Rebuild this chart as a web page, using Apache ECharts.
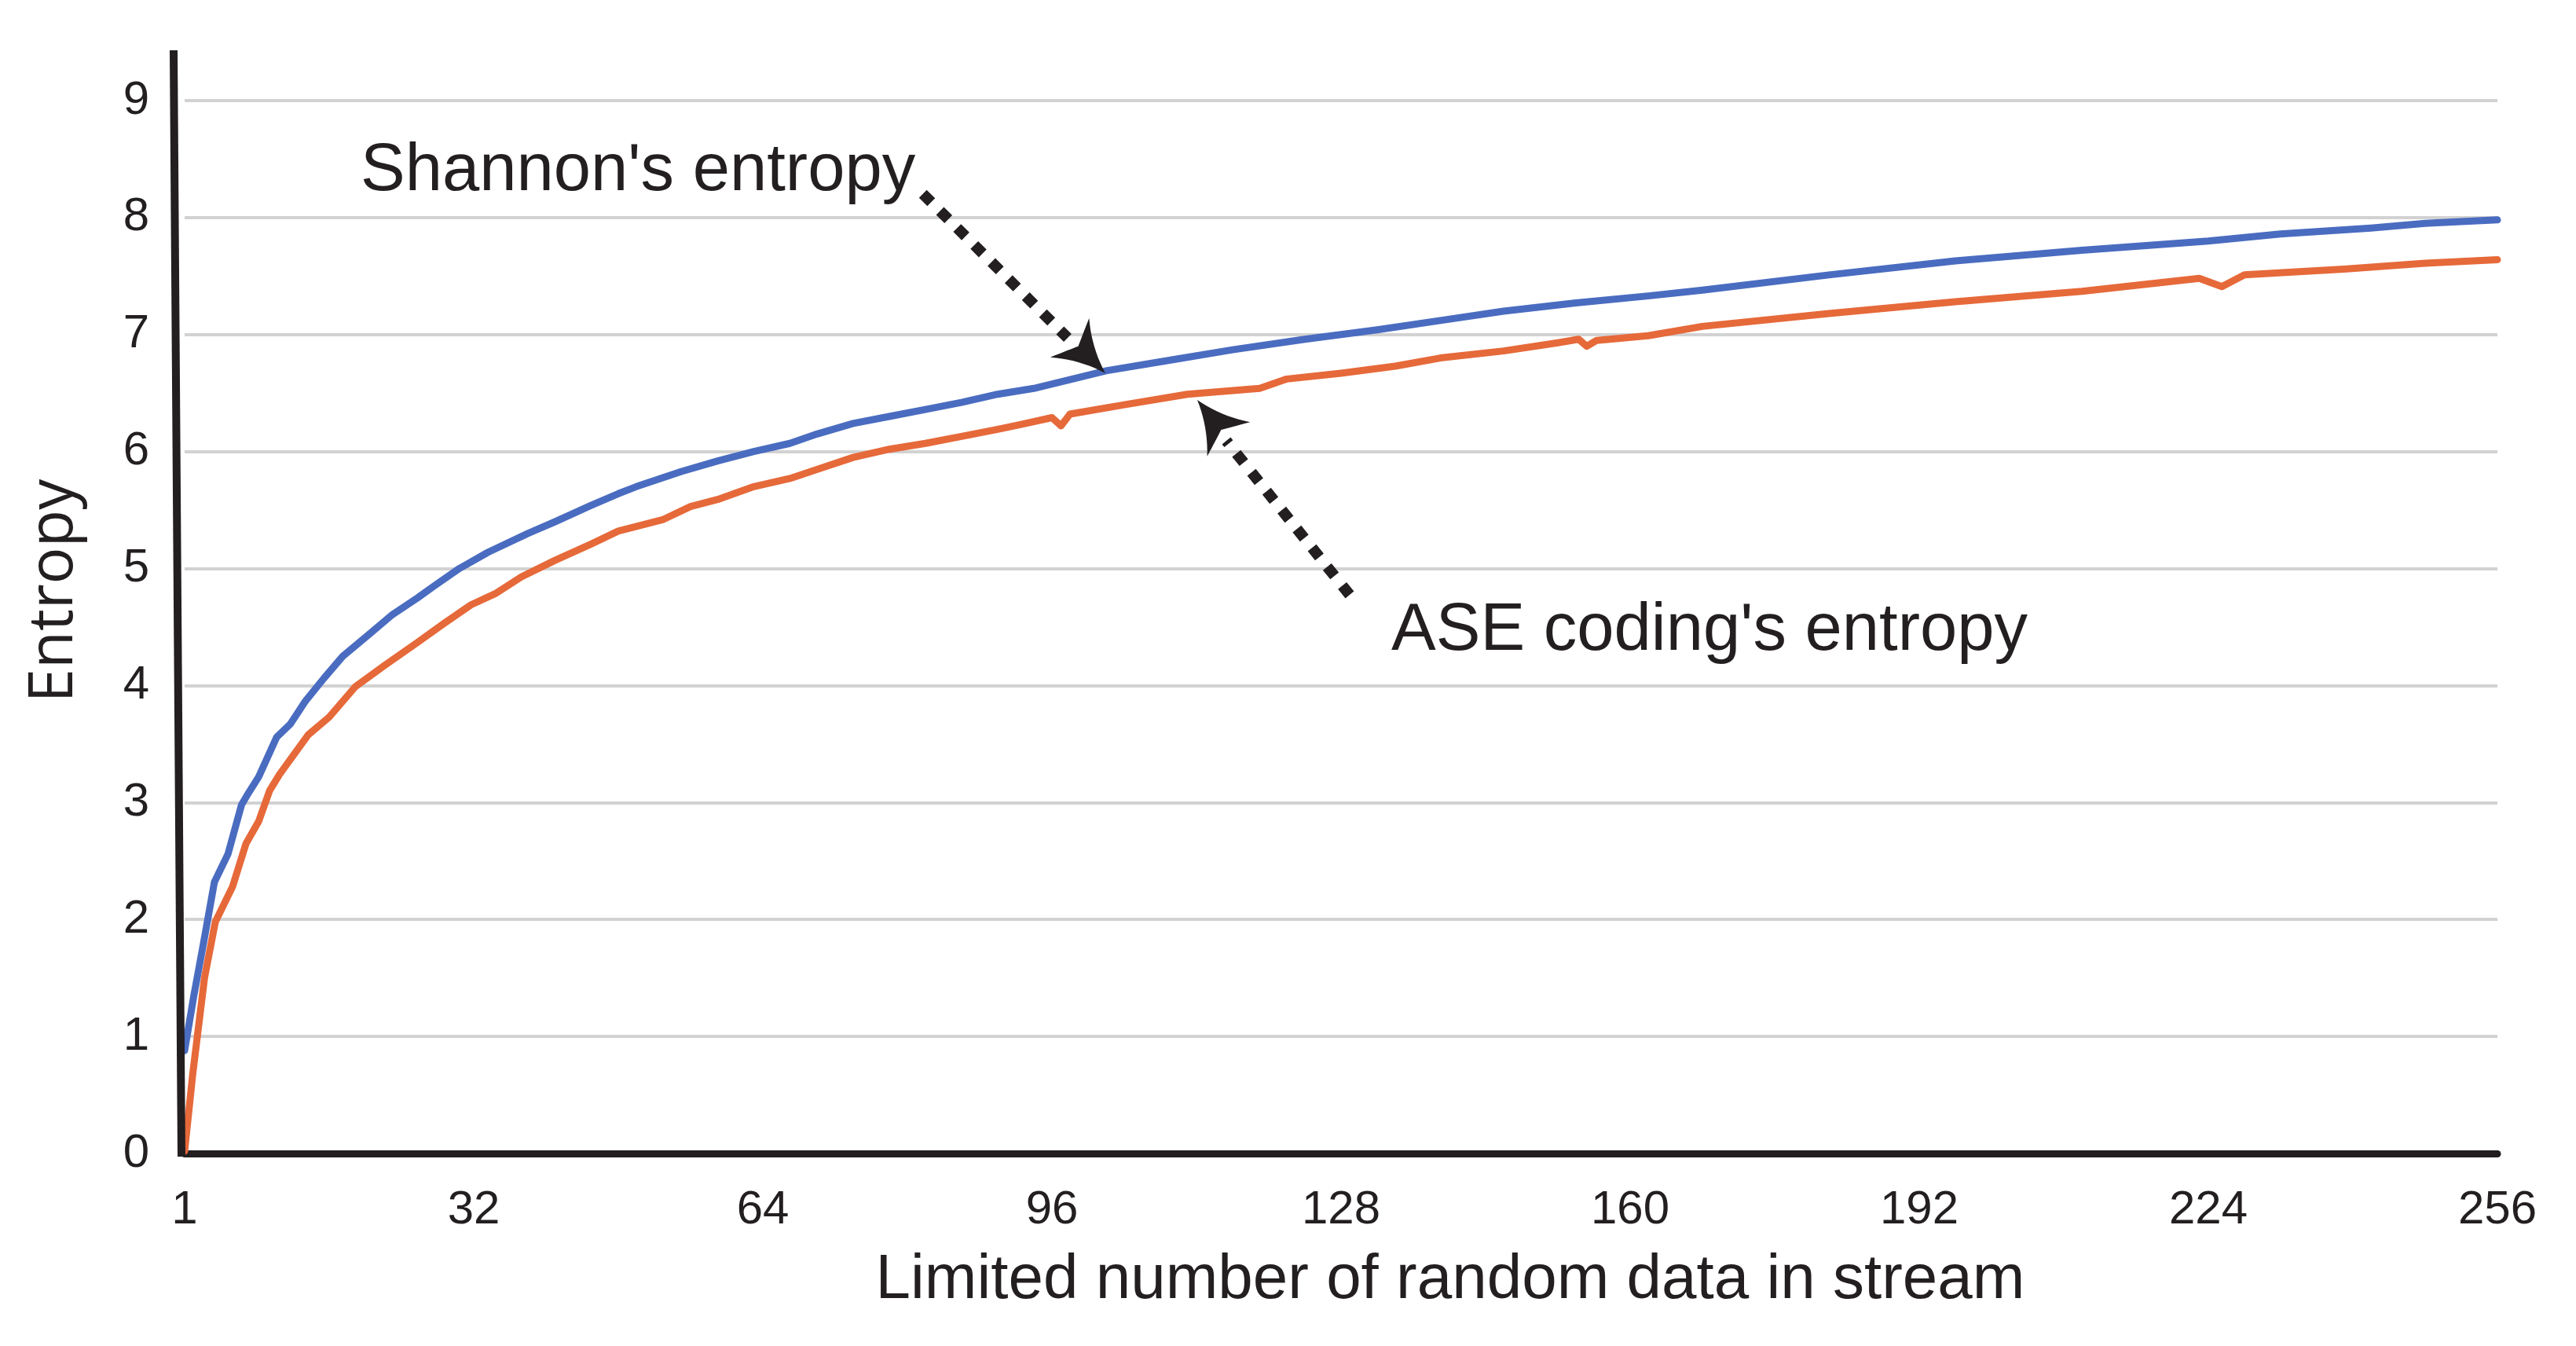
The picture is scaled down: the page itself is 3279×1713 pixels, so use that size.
<!DOCTYPE html>
<html>
<head>
<meta charset="utf-8">
<script src="https://cdn.jsdelivr.net/npm/echarts@6/dist/echarts.min.js"></script>
<style>
html,body{margin:0;padding:0;background:#ffffff;}
#chart{width:3279px;height:1713px;}
</style>
</head>
<body>
<div id="chart"></div>
<script>
// ---------------- data ----------------
const xTickValues = [0, 32, 64, 96, 128, 160, 192, 224, 256];
const xTickLabels = ['1', '32', '64', '96', '128', '160', '192', '224', '256'];

const seriesNames = ["Shannon's entropy", "ASE coding's entropy"];

const shannonX = [0, 1, 2, 3.3, 4.8, 6.3, 6.9, 8.2, 10.2, 11.7, 13.4, 15.4, 17.5, 20.6, 22.9, 25.8, 27.6, 30.4, 33.6, 38,
  41, 45, 48, 50, 55, 59, 63, 67, 70, 74, 78, 82, 86, 90, 94, 102, 109, 116, 124, 132,
  139, 146, 154, 162, 168, 182, 196, 210, 224, 232, 242, 248, 256];
const shannonY = [0.88, 1.34, 1.76, 2.32, 2.56, 2.98, 3.06, 3.22, 3.56, 3.67, 3.87, 4.06, 4.25, 4.45, 4.60, 4.75, 4.85, 5.0, 5.14, 5.3,
  5.4, 5.54, 5.64, 5.7, 5.83, 5.92, 6.0, 6.07, 6.15, 6.24, 6.3, 6.36, 6.42, 6.49, 6.54, 6.69, 6.78, 6.87, 6.96, 7.04,
  7.12, 7.2, 7.27, 7.33, 7.38, 7.51, 7.63, 7.72, 7.8, 7.86, 7.91, 7.95, 7.98];

const aseX = [0, 0.9, 2.2, 3.4, 5.3, 6.8, 8.2, 9.4, 10.5, 13.7, 16, 18.9, 22.1, 25.8, 28.7, 31.7, 34.5, 37.3, 41, 45,
  48, 53, 56, 59, 63, 67, 70.5, 74, 78, 82, 86, 90, 92.5, 96, 97, 98, 104, 111, 119, 122,
  128, 134, 139, 146, 152, 154.3, 155.2, 156.3, 162, 168, 182, 196, 210, 223, 225.5, 228, 239, 248, 256];
const aseY = [0.02, 0.68, 1.5, 1.98, 2.28, 2.65, 2.84, 3.10, 3.24, 3.58, 3.73, 3.99, 4.17, 4.37, 4.53, 4.69, 4.79, 4.93, 5.07, 5.21,
  5.32, 5.42, 5.53, 5.59, 5.7, 5.77, 5.86, 5.95, 6.02, 6.07, 6.13, 6.19, 6.23, 6.29, 6.22, 6.32, 6.40, 6.49, 6.54, 6.62,
  6.67, 6.73, 6.80, 6.86, 6.93, 6.96, 6.90, 6.95, 6.99, 7.07, 7.18, 7.28, 7.37, 7.48, 7.41, 7.51, 7.56, 7.61, 7.64];

// ---------------- styles ----------------
const INK = '#231f20';
const GRID = '#d2d2d2';
const BLUE = '#4a6cc0';
const ORANGE = '#e6693a';
const SANS = '"Liberation Sans", Arial, Helvetica, sans-serif';
const HUMANIST = '"Open Sans", "Noto Sans", sans-serif';

const chart = echarts.init(document.getElementById('chart'), null, {renderer: 'canvas'});

const option = {
  animation: false,
  backgroundColor: '#ffffff',
  grid: {left: 235, right: 100, top: 128, bottom: 245, containLabel: false},
  xAxis: {
    type: 'value', min: 0, max: 256, interval: 32,
    axisLine: {show: true, onZero: false, lineStyle: {color: INK, width: 9}},
    axisTick: {show: false},
    splitLine: {show: false},
    axisLabel: {
      fontSize: 60, color: INK, fontFamily: SANS, margin: 42,
      formatter: function (v) { const i = xTickValues.indexOf(v); return i >= 0 ? xTickLabels[i] : ''; }
    }
  },
  yAxis: {
    type: 'value', min: 0, max: 9, interval: 1,
    axisLine: {show: false},
    axisTick: {show: false},
    splitLine: {show: true, lineStyle: {color: GRID, width: 4}},
    axisLabel: {fontSize: 60, color: INK, fontFamily: SANS, margin: 45}
  },
  series: [
    {
      name: seriesNames[0], type: 'line', showSymbol: false, z: 3,
      data: shannonX.map((x, i) => [x, shannonY[i]]),
      lineStyle: {color: BLUE, width: 9, cap: 'round', join: 'round'}
    },
    {
      name: seriesNames[1], type: 'line', showSymbol: false, z: 4,
      data: aseX.map((x, i) => [x, aseY[i]]),
      lineStyle: {color: ORANGE, width: 9, cap: 'round', join: 'round'}
    }
  ]
};
chart.setOption(option);

// ---------------- decorations: hand-drawn y axis line, titles, arrows ----------------
function quad(p0, c, p1, n) {
  const pts = [];
  for (let k = 1; k <= n; k++) {
    const t = k / n, a = (1 - t) * (1 - t), b = 2 * (1 - t) * t, d = t * t;
    pts.push([a * p0[0] + b * c[0] + d * p1[0], a * p0[1] + b * c[1] + d * p1[1]]);
  }
  return pts;
}
function arrowHead(T, dir, L, W) {
  const len = Math.hypot(dir[0], dir[1]);
  const u = [dir[0] / len, dir[1] / len];
  const v = [-u[1], u[0]];
  const P = (a, b) => [T[0] - a * u[0] + b * v[0], T[1] - a * u[1] + b * v[1]];
  const B1 = P(L, W), B2 = P(L, -W), N = P(0.76 * L, 0);
  let pts = [T];
  pts = pts.concat(quad(T, P(0.55 * L, 0.30 * W), B1, 10));
  pts = pts.concat(quad(B1, P(0.84 * L, 0.32 * W), N, 8));
  pts = pts.concat(quad(N, P(0.84 * L, -0.32 * W), B2, 8));
  pts = pts.concat(quad(B2, P(0.55 * L, -0.30 * W), T, 10));
  return {type: 'polygon', shape: {points: pts}, style: {fill: INK}, z: 60};
}
function dotted(x1, y1, x2, y2) {
  return {
    type: 'line', shape: {x1: x1, y1: y1, x2: x2, y2: y2},
    style: {stroke: INK, lineWidth: 14, lineDash: [15, 15.8], lineCap: 'butt'}, z: 60
  };
}

const origin = chart.convertToPixel({gridIndex: 0}, [0, 0]);
const axisTop = chart.convertToPixel({gridIndex: 0}, [0, 9.43]);

chart.setOption({
  graphic: [
    // slightly slanted, extended vertical axis line
    {type: 'line', shape: {x1: origin[0] - 4, y1: origin[1] + 4, x2: axisTop[0] - 14, y2: axisTop[1]},
      style: {stroke: INK, lineWidth: 10, lineCap: 'butt'}, z: 50},
    // axis titles
    {type: 'text', x: 70, y: 752, rotation: Math.PI / 2,
      style: {text: 'Entropy', fontSize: 78, fontFamily: HUMANIST, fill: INK, align: 'center', verticalAlign: 'middle'}, z: 60},
    {type: 'text', x: 1846, y: 1630,
      style: {text: 'Limited number of random data in stream', fontSize: 80, fontFamily: SANS, fill: INK, align: 'center', verticalAlign: 'middle'}, z: 60},
    // annotations
    {type: 'text', x: 459, y: 219,
      style: {text: seriesNames[0], fontSize: 85, fontFamily: SANS, fill: INK, align: 'left', verticalAlign: 'middle'}, z: 60},
    {type: 'text', x: 1771, y: 804,
      style: {text: seriesNames[1], fontSize: 85, fontFamily: SANS, fill: INK, align: 'left', verticalAlign: 'middle'}, z: 60},
    dotted(1174.7, 246.7, 1359, 430),
    arrowHead([1407, 475], [21.7, 21.6], 64, 35),
    dotted(1718, 757, 1561, 561),
    arrowHead([1524, 509], [-19.5, -24.4], 64, 35)
  ]
});
</script>
</body>
</html>
